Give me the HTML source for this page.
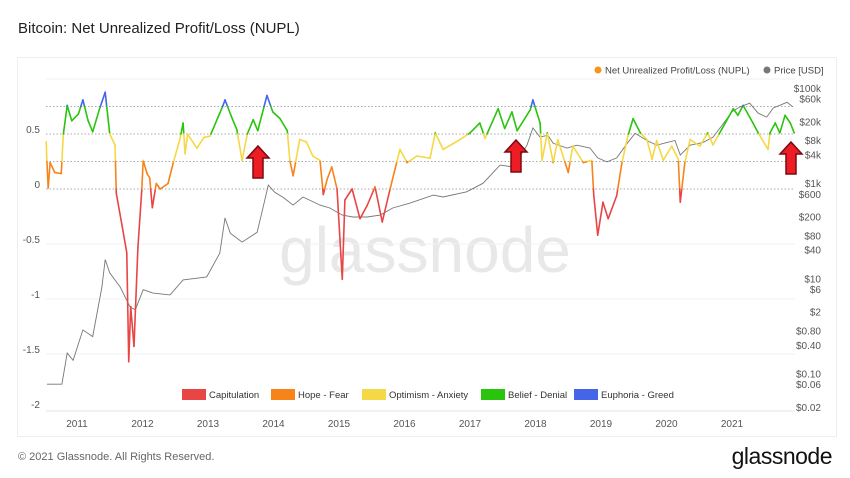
<!DOCTYPE html>
<html><head><meta charset="utf-8">
<style>
body{margin:0;width:850px;height:478px;background:#fff;font-family:"Liberation Sans",sans-serif;overflow:hidden}
#title{position:absolute;left:18px;top:20px;font-size:15px;color:#222}
#card{position:absolute;left:17px;top:57px;width:820px;height:380px;border:1px solid #eee;box-sizing:border-box}
#foot{position:absolute;left:18px;top:451px;font-size:11px;color:#666}
#logo{position:absolute;right:18px;top:443px;font-size:23px;color:#111;letter-spacing:-0.5px}
svg{position:absolute;left:0;top:0}
</style></head><body>
<div id="title">Bitcoin: Net Unrealized Profit/Loss (NUPL)</div>
<div id="card"></div>
<div id="foot">© 2021 Glassnode. All Rights Reserved.</div>
<div id="logo">glassnode</div>
<svg id="chart" width="850" height="478"></svg>
<script>
const nuplYears=[2010.53,2010.54,2010.56,2010.59,2010.66,2010.76,2010.79,2010.85,2010.92,2011.02,2011.09,2011.17,2011.24,2011.34,2011.43,2011.50,2011.58,2011.60,2011.69,2011.76,2011.79,2011.82,2011.87,2011.93,2011.99,2012.01,2012.07,2012.11,2012.15,2012.21,2012.27,2012.39,2012.47,2012.57,2012.62,2012.65,2012.69,2012.83,2012.94,2013.03,2013.23,2013.26,2013.37,2013.44,2013.52,2013.60,2013.69,2013.76,2013.90,2013.99,2014.10,2014.21,2014.25,2014.30,2014.40,2014.50,2014.60,2014.71,2014.76,2014.82,2014.89,2014.97,2015.05,2015.09,2015.20,2015.32,2015.43,2015.55,2015.66,2015.78,2015.93,2016.04,2016.19,2016.39,2016.47,2016.59,2016.85,2017.00,2017.15,2017.23,2017.43,2017.53,2017.64,2017.72,2017.92,2017.96,2018.07,2018.10,2018.18,2018.27,2018.34,2018.42,2018.50,2018.57,2018.73,2018.86,2018.89,2018.95,2019.03,2019.11,2019.24,2019.32,2019.41,2019.49,2019.60,2019.70,2019.78,2019.85,2019.95,2020.08,2020.18,2020.21,2020.28,2020.36,2020.51,2020.63,2020.71,2020.85,2021.02,2021.09,2021.17,2021.32,2021.40,2021.55,2021.58,2021.66,2021.73,2021.81,2021.89,2021.95];
const nuplValues=[0.43,0.26,0.01,0.24,0.15,0.14,0.49,0.76,0.62,0.68,0.81,0.62,0.52,0.72,0.88,0.50,0.40,-0.04,-0.34,-0.58,-1.57,-1.07,-1.43,-0.53,0,0.26,0.14,0.10,-0.17,0.05,0,0.05,0.24,0.45,0.60,0.32,0.50,0.37,0.47,0.48,0.76,0.81,0.64,0.54,0.26,0.50,0.63,0.53,0.85,0.70,0.64,0.53,0.26,0.12,0.45,0.43,0.30,0.26,-0.05,0.09,0.20,0,-0.82,-0.1,0,-0.27,-0.15,0.02,-0.3,0,0.36,0.24,0.30,0.28,0.51,0.36,0.45,0.51,0.60,0.46,0.73,0.55,0.70,0.53,0.72,0.81,0.60,0.26,0.51,0.24,0.45,0.30,0.15,0.39,0.24,0.26,-0.06,-0.42,-0.12,-0.27,-0.06,0.24,0.48,0.64,0.51,0.45,0.27,0.44,0.26,0.39,0.27,-0.12,0.24,0.45,0.39,0.51,0.40,0.55,0.73,0.67,0.76,0.60,0.51,0.36,0.51,0.60,0.51,0.67,0.60,0.51];
const priceYears=[2010.54,2010.77,2010.85,2010.94,2011.09,2011.24,2011.38,2011.43,2011.50,2011.66,2011.81,2011.89,2012.01,2012.16,2012.42,2012.62,2012.98,2013.18,2013.26,2013.34,2013.52,2013.75,2013.82,2013.92,2014.02,2014.15,2014.30,2014.45,2014.71,2014.86,2015.05,2015.21,2015.43,2015.63,2015.82,2016.08,2016.44,2016.59,2016.95,2017.20,2017.46,2017.66,2017.87,2017.96,2018.07,2018.19,2018.27,2018.48,2018.63,2018.83,2018.95,2019.09,2019.24,2019.40,2019.52,2019.70,2019.85,2020.01,2020.13,2020.21,2020.36,2020.56,2020.71,2020.85,2021.00,2021.12,2021.27,2021.40,2021.53,2021.63,2021.84,2021.93];
const priceValues=[0.06,0.06,0.27,0.19,0.83,0.6,6.6,25,13,6.6,2.5,2.2,5.8,4.9,4.5,9.3,10.7,34,186,89,58,93,234,912,645,500,347,513,347,302,214,195,195,214,302,380,562,513,660,1000,2400,2190,6300,14500,9300,10200,6900,5500,6300,5500,3400,2800,3400,6900,11200,7900,6300,7200,7900,3900,6300,7200,9300,16600,31600,40000,48000,29500,24500,38000,50000,40000];
const yearTicks=[2011,2012,2013,2014,2015,2016,2017,2018,2019,2020,2021];
const leftTicks=[0.5,0,-0.5,-1,-1.5,-2];
const dottedTicks=[0.75,0.5,0.25,0];
const solidTicks=[1,-0.5,-1,-1.5];
const priceTicks=[100000,60000,20000,8000,4000,1000,600,200,80,40,10,6,2,0.8,0.4,0.1,0.06,0.02];
const priceLabels=["$100k","$60k","$20k","$8k","$4k","$1k","$600","$200","$80","$40","$10","$6","$2","$0.80","$0.40","$0.10","$0.06","$0.02"];
const bands=[{lo:-9,hi:0,c:"#e84545",n:"Capitulation"},{lo:0,hi:0.25,c:"#f7831b",n:"Hope - Fear"},{lo:0.25,hi:0.5,c:"#f5d845",n:"Optimism - Anxiety"},{lo:0.5,hi:0.75,c:"#2ac40e",n:"Belief - Denial"},{lo:0.75,hi:9,c:"#4465e8",n:"Euphoria - Greed"}];

const X=y=>77+(y-2011)*65.5;
const Y=v=>189-v*110;
const P=p=>88+(5-Math.log10(p))*47.6;
const svg=document.getElementById('chart');
const NS="http://www.w3.org/2000/svg";
function mk(t,a,p){const e=document.createElementNS(NS,t);for(const k in a)e.setAttribute(k,a[k]);(p||svg).appendChild(e);return e;}

// watermark
let wm=mk('text',{x:425,y:272,'text-anchor':'middle','font-size':64,fill:'#e8e8e8','font-family':'Liberation Sans, sans-serif'});


wm.textContent='glassnode';

solidTicks.forEach(t=>{let l=mk('line',{x1:46,x2:795,y1:Y(t),y2:Y(t),stroke:'#f0f0f0'});

});
dottedTicks.forEach(t=>{let l=mk('line',{x1:46,x2:795,y1:Y(t),y2:Y(t),stroke:'#aaa','stroke-dasharray':'1.5,2'});

});
let ax=mk('line',{x1:46,x2:795,y1:Y(-2)+2,y2:Y(-2)+2,stroke:'#e6e6e6'});



leftTicks.forEach(t=>{let e=mk('text',{x:40,y:Y(t)-1,'text-anchor':'end','font-size':10,fill:'#555'});


e.textContent=String(t);});
priceTicks.forEach((t,i)=>{let e=mk('text',{x:821,y:P(t)+4,'text-anchor':'end','font-size':10,fill:'#555'});


e.textContent=priceLabels[i];});
yearTicks.forEach(t=>{let e=mk('text',{x:X(t),y:427,'text-anchor':'middle','font-size':10,fill:'#555'});


e.textContent=String(t);});

// price line
let pd=priceYears.map((y,i)=>(i?'L':'M')+X(y).toFixed(1)+','+P(priceValues[i]).toFixed(1)).join('');
let pl=mk('path',{d:pd,fill:'none',stroke:'#777','stroke-width':0.9});



// nupl colored segments
const bandOf=v=>bands.findIndex(b=>v>=b.lo&&v<b.hi);
const g=mk('g',{});


for(let i=0;i<nuplValues.length-1;i++){
  let y0=nuplYears[i],y1=nuplYears[i+1],v0=nuplValues[i],v1=nuplValues[i+1];
  let cuts=[0];
  [0,0.25,0.5,0.75].forEach(th=>{if((v0-th)*(v1-th)<0)cuts.push((th-v0)/(v1-v0));});
  cuts.push(1);cuts.sort((a,b)=>a-b);
  for(let k=0;k<cuts.length-1;k++){
    let a=cuts[k],b=cuts[k+1],m=(a+b)/2;
    let vm=v0+(v1-v0)*m;
    let s=mk('line',{x1:X(y0+(y1-y0)*a),y1:Y(v0+(v1-v0)*a),x2:X(y0+(y1-y0)*b),y2:Y(v0+(v1-v0)*b),stroke:bands[bandOf(vm)].c,'stroke-width':1.6,'stroke-linecap':'round'},g);
    
    
  }
}

// arrows
[[258,146],[516,140],[791,142]].forEach(([cx,ty])=>{
  let a=mk('polygon',{points:`${cx},${ty} ${cx+11},${ty+12} ${cx+5},${ty+12} ${cx+5},${ty+32} ${cx-5},${ty+32} ${cx-5},${ty+12} ${cx-11},${ty+12}`,fill:'#ee1c25',stroke:'#7a0a10','stroke-width':1.5});
  
  
});

// top legend
let lg=mk('g',{});


mk('circle',{cx:598,cy:70,r:3.5,fill:'#f7931a'},lg);
let t1=mk('text',{x:605,y:73.5,'font-size':9.5,fill:'#444'},lg);


t1.textContent='Net Unrealized Profit/Loss (NUPL)';
mk('circle',{cx:767,cy:70,r:3.5,fill:'#777'},lg);
let t2=mk('text',{x:774,y:73.5,'font-size':9.5,fill:'#444'},lg);


t2.textContent='Price [USD]';

// bottom legend
const lx=[182,271,362,481,574];
bands.forEach((b,i)=>{
  let r=mk('rect',{x:lx[i],y:389,width:24,height:11,fill:b.c});
  
  
  let t=mk('text',{x:lx[i]+27,y:398,'font-size':9.5,fill:'#333'});
  
  
  t.textContent=b.n;
});
</script>
</body></html>
